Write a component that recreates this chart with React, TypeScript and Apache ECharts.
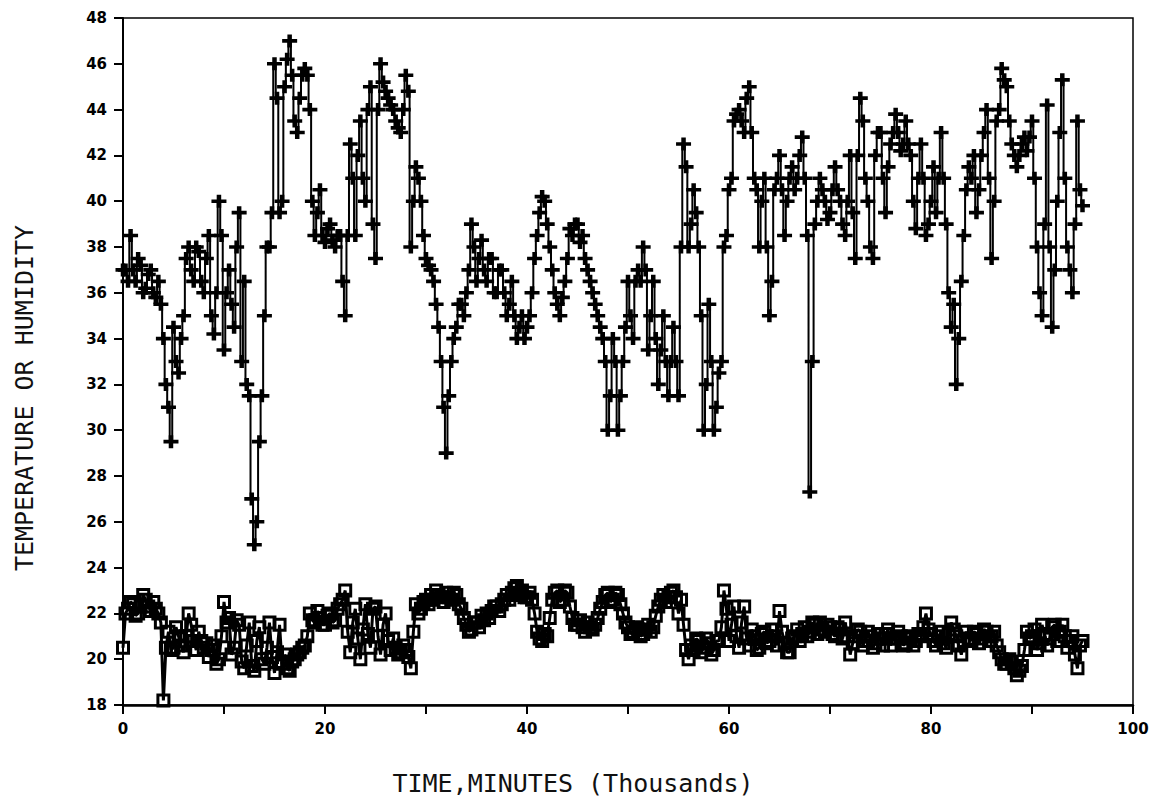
import React, { useEffect, useRef } from "react";
import * as echarts from "echarts";

// Time in thousands of minutes, sampled every 0.25
const timeStep = 0.25;

const temperature: number[] = [
  37, 37, 36.5, 38.5, 37, 36.5, 37.5, 37.2, 36, 36.2, 36.8, 37, 36, 35.8, 36.5, 35.5, 34, 32, 31, 29.5,
  34.5, 33, 32.5, 34, 35, 37.5, 38, 37, 36.5, 38, 37.8, 36.5, 36, 37.5, 38.5, 35, 34.2, 36, 40, 38.5,
  33.5, 36, 37, 35.5, 34.5, 38, 39.5, 33, 36.5, 32, 31.5, 27, 25, 26, 29.5, 31.5, 35, 38, 38, 39.5,
  46, 44.5, 39.5, 40, 45, 46.2, 47, 45.5, 43.5, 43, 44.5, 45.5, 45.8, 45.5, 44, 40, 38.5, 39.5, 40.5, 38.5,
  38.2, 38.8, 39, 38.3, 38, 38.5, 38.5, 36.5, 35, 38.5, 42.5, 41, 38.5, 42, 43.5, 41, 40, 44, 45, 39,
  37.5, 44, 46, 45.2, 44.8, 44.5, 44.2, 44, 43.5, 43.2, 43, 44, 45.5, 44.8, 38, 40, 41.5, 41, 40, 38.5,
  37.5, 37.2, 37, 36.5, 35.5, 34.5, 33, 31, 29, 31.5, 33, 34, 34.5, 35.5, 35.5, 35, 36, 37, 39, 38,
  36.5, 37.5, 38.3, 37, 36.5, 37.5, 37.5, 36, 36, 37, 37, 36, 35, 35.5, 36.5, 35, 34, 34.5, 35, 34,
  34.5, 35, 36, 37.5, 38.5, 39.5, 40.2, 40, 39, 38, 37, 36, 35.5, 35, 35.8, 36.5, 37.5, 38.8, 38.5, 39,
  39, 38.2, 38.5, 37.5, 37, 36.5, 36, 35.5, 35, 34.5, 34, 33, 30, 31.5, 34, 33, 30, 31.5, 33, 34.5,
  36.5, 35, 34, 36.5, 37, 36.5, 38, 37, 33.5, 35, 36.5, 34, 32, 33.5, 35, 33, 31.5, 33, 34.5, 33,
  31.5, 38, 42.5, 41.5, 38, 39, 40.5, 39.5, 38, 35, 30, 32, 35.5, 33, 30, 31, 32.5, 33, 38, 38.5,
  40.5, 41, 43.5, 43.8, 44, 43.5, 43, 44.5, 45, 43, 41, 40.5, 38, 40, 41, 38, 35, 36.5, 40.5, 41,
  42, 40.5, 38.5, 40, 41, 41.5, 40.5, 41, 42, 42.8, 41, 38.5, 27.3, 33, 39, 40, 41, 40.5, 40, 39.2,
  39.5, 40.5, 41.5, 40.5, 40, 39, 38.5, 40, 42, 39.5, 37.5, 42, 44.5, 43.5, 41, 40, 38, 37.5, 42, 43,
  43, 41, 39.5, 41.5, 42.5, 43, 43.8, 43, 42.2, 42.5, 43.5, 42.5, 42, 40, 38.8, 41, 42.5, 41, 38.5, 39,
  40, 41.5, 39.5, 41, 43, 41, 39, 36, 34.5, 35.5, 32, 34, 36.5, 38.5, 40.5, 41.5, 41, 42, 39.5, 40.5,
  42, 43, 44, 41, 37.5, 40, 43.5, 44, 45.8, 45.3, 45, 43.5, 42.5, 42, 41.5, 42, 42.5, 42.8, 42.2, 42.8,
  43.5, 41, 38, 36, 35, 39, 44.2, 38, 34.5, 37, 40, 43, 45.3, 41, 38, 37, 36, 39, 43.5, 40.5,
  39.8,
];

const humidity: number[] = [
  20.5, 22.0, 22.2, 22.5, 22.4, 21.9, 22.0, 22.3, 22.8, 22.6, 22.3, 22.1, 22.5, 22.2, 22.0, 21.6, 18.2, 20.5, 21.2, 20.4,
  20.5, 21.4, 21.0, 20.6, 20.3, 21.0, 22.0, 21.5, 20.8, 20.4, 21.2, 20.8, 20.5, 20.7, 20.1, 20.4, 20.6, 19.8, 20.0, 21.0,
  22.5, 21.6, 21.8, 20.2, 20.5, 21.7, 21.5, 19.9, 19.6, 20.6, 21.6, 19.7, 19.5, 20.8, 21.4, 20.0, 19.8, 20.5, 21.6, 20.1,
  19.4, 20.3, 21.5, 19.8, 20.2, 19.6, 19.5, 19.9, 20.0, 20.2, 20.3, 20.5, 20.6, 21.0, 22.0, 21.7, 21.6, 22.1, 21.8, 21.5,
  21.5, 21.9, 22.0, 21.6, 21.7, 22.2, 22.4, 22.6, 23.0, 21.2, 20.3, 21.6, 22.2, 20.9, 20.0, 21.3, 22.4, 21.1, 20.5, 22.2,
  22.3, 21.0, 20.2, 21.5, 22.0, 20.8, 20.4, 20.9, 20.5, 20.2, 20.3, 20.6, 20.4, 20.1, 19.6, 21.2, 22.4, 22.0, 22.2, 22.5,
  22.6, 22.4, 22.8, 22.6, 23.0, 22.8, 22.7, 22.5, 22.9, 22.7, 22.6, 22.9, 22.8, 22.4, 22.2, 21.8, 21.5, 21.2, 21.3, 21.6,
  21.6, 21.4, 21.9, 21.7, 22.0, 21.8, 22.1, 22.3, 22.3, 22.1, 22.4, 22.6, 22.8, 22.6, 22.9, 23.1, 23.2, 22.8, 23.0, 22.7,
  22.7, 22.9, 22.6, 22.0, 21.2, 20.9, 20.8, 21.1, 21.0, 21.8, 22.6, 22.9, 23.0, 22.5, 22.6, 23.0, 22.9, 22.3, 21.8, 21.5,
  21.5, 21.7, 21.4, 21.2, 21.6, 21.4, 21.3, 21.5, 21.8, 22.2, 22.5, 22.8, 22.9, 22.5, 22.6, 22.9, 22.8, 22.4, 22.0, 21.6,
  21.4, 21.1, 21.2, 21.4, 21.3, 21.0, 21.1, 21.3, 21.5, 21.2, 21.4, 21.9, 22.3, 22.6, 22.8, 22.5, 22.7, 22.9, 23.0, 22.7,
  22.0, 22.6, 21.5, 20.4, 20.0, 20.6, 20.4, 20.9, 20.8, 20.3, 20.5, 20.9, 20.7, 20.2, 20.4, 20.8, 20.8, 21.4, 23.0, 22.2,
  20.8, 21.5, 22.3, 21.0, 20.5, 21.6, 22.3, 20.9, 20.6, 21.3, 21.0, 20.4, 20.5, 21.1, 21.2, 20.7, 20.8, 21.3, 21.0, 20.6,
  22.1, 21.2, 20.7, 20.3, 20.3, 20.9, 21.0, 21.3, 20.8, 21.1, 21.4, 21.0, 21.2, 21.6, 21.5, 21.1, 21.6, 21.3, 21.2, 21.5,
  21.4, 21.1, 21.0, 21.4, 21.3, 20.9, 21.6, 21.0, 20.2, 20.7, 21.0, 21.3, 21.2, 20.6, 20.8, 21.2, 21.0, 20.5, 20.7, 21.1,
  20.9, 20.6, 21.1, 21.3, 20.6, 20.9, 20.9, 21.2, 21.0, 20.6, 20.7, 21.0, 20.9, 20.6, 20.8, 21.1, 21.0, 21.4, 22.0, 21.3,
  21.1, 20.8, 20.6, 21.0, 21.2, 20.7, 20.5, 21.1, 21.6, 21.3, 21.0, 20.6, 20.2, 20.8, 21.2, 20.9, 20.8, 21.2, 21.1, 20.7,
  20.9, 21.3, 21.2, 20.8, 21.0, 21.2, 20.6, 20.3, 20.0, 19.8, 19.8, 20.0, 19.9, 19.6, 19.3, 19.5, 19.7, 20.4, 21.2, 20.9,
  21.0, 21.3, 20.4, 20.7, 21.5, 21.1, 20.6, 20.9, 21.4, 21.5, 20.8, 21.2, 21.5, 21.0, 20.5, 20.8, 21.0, 20.2, 19.6, 20.6,
  20.8,
];

const xTickLabels = ["0", "20", "40", "60", "80", "100"];
const yTickLabels = ["18", "20", "22", "24", "26", "28", "30", "32", "34", "36", "38", "40", "42", "44", "46", "48"];
const xTitle = "TIME,MINUTES (Thousands)";
const yTitle = "TEMPERATURE OR HUMIDITY";

const crossSymbol = "path://M0,3.6H10V6.4H0Z M3.5,0H6.5V10H3.5Z";

export default function App() {
  const ref = useRef<HTMLDivElement>(null);

  useEffect(() => {
    if (!ref.current) return;
    const chart = echarts.init(ref.current, undefined, { renderer: "svg" });
    const tData = temperature.map((v, i) => [i * timeStep, v]);
    const hData = humidity.map((v, i) => [i * timeStep, v]);
    const titleFont = '25px "DejaVu Sans Mono"';
    chart.setOption({
      animation: false,
      backgroundColor: "#ffffff",
      grid: {
        left: 123,
        right: 26,
        top: 18,
        bottom: 102,
        show: true,
        borderColor: "#000",
        borderWidth: 1.5,
        backgroundColor: "transparent",
      },
      graphic: [
        {
          type: "text",
          x: 573,
          y: 783,
          style: { text: xTitle, font: titleFont, fill: "#111", textAlign: "center", textVerticalAlign: "middle" },
        },
        {
          type: "text",
          x: 24,
          y: 398,
          rotation: Math.PI / 2,
          style: { text: yTitle, font: titleFont, fill: "#111", textAlign: "center", textVerticalAlign: "middle" },
        },
      ],
      xAxis: {
        type: "value",
        min: 0,
        max: 100,
        interval: 10,
        axisLine: { show: true, lineStyle: { color: "#000", width: 2.5 } },
        axisTick: { show: true, length: 9, lineStyle: { color: "#000", width: 2 } },
        axisLabel: {
          margin: 16,
          fontFamily: "DejaVu Sans",
          fontWeight: "bold",
          fontSize: 15,
          color: "#000",
          formatter: (v: number) => (xTickLabels.includes(String(v)) ? String(v) : ""),
        },
        splitLine: { show: false },
      },
      yAxis: {
        type: "value",
        min: 18,
        max: 48,
        interval: 2,
        axisLine: { show: true, lineStyle: { color: "#000", width: 2 } },
        axisTick: { show: true, length: 9, lineStyle: { color: "#000", width: 2 } },
        axisLabel: {
          margin: 16,
          fontFamily: "DejaVu Sans",
          fontWeight: "bold",
          fontSize: 15,
          color: "#000",
          formatter: (v: number) => (yTickLabels.includes(String(v)) ? String(v) : ""),
        },
        splitLine: { show: false },
      },
      series: [
        {
          name: "Temperature",
          type: "line",
          data: tData,
          step: "middle",
          symbol: crossSymbol,
          symbolSize: [15, 13],
          showAllSymbol: true,
          lineStyle: { color: "#000", width: 2 },
          itemStyle: { color: "#000" },
        },
        {
          name: "Humidity",
          type: "line",
          data: hData,
          symbol: "rect",
          symbolSize: 11,
          showAllSymbol: true,
          lineStyle: { color: "#000", width: 3 },
          itemStyle: { color: "rgba(255,255,255,0)", borderColor: "#000", borderWidth: 3 },
        },
      ],
    });
    return () => chart.dispose();
  }, []);

  return (
    <div
      ref={ref}
      style={{ position: "fixed", left: 0, top: 0, width: 1159, height: 807, background: "#fff" }}
    />
  );
}
